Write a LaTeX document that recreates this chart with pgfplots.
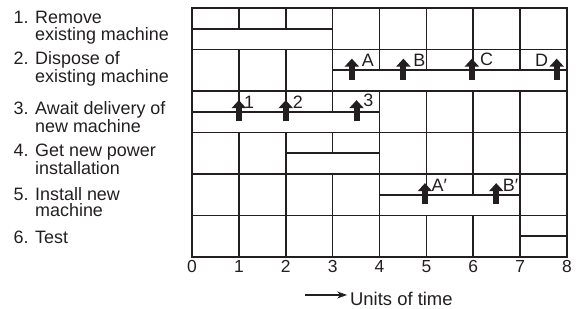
\documentclass[border=0pt]{standalone}
\usepackage{fontspec}
\setmainfont{Liberation Sans}
\usepackage{pgfplots}
\pgfplotsset{compat=1.18}
\usetikzlibrary{arrows.meta}
\definecolor{ink}{RGB}{35,31,32}
\newcommand{\lfont}{\fontsize{18}{16.7}\selectfont}
\begin{document}
\begin{tikzpicture}
\begin{axis}[
  scale only axis, width=375bp, height=249bp,
  xmin=0, xmax=8, ymin=0, ymax=6, y dir=reverse,
  xtick={0,...,8}, ytick={0,...,6}, yticklabels={},
  xmajorgrids, ymajorgrids,
  major grid style={line width=1.6bp, draw=ink},
  axis line style={line width=1.7bp, draw=ink},
  major tick length=0pt,
  /pgf/number format/assume math mode=true,
  xticklabel style={font=\fontsize{17.5}{17.5}\selectfont, text=ink},
  clip=false,
]
% invisible frame fixing the picture size (579 x 309)
\path (axis cs:-4.096,-0.193) rectangle (axis cs:8.256,7.253);
% task bars (lower half of each row)
\addplot[fill=white, draw=ink, line width=1.6bp] coordinates {(0,0.5) (3,0.5) (3,1) (0,1) (0,0.5)};
\addplot[fill=white, draw=ink, line width=1.6bp] coordinates {(3,1.5) (8,1.5) (8,2) (3,2) (3,1.5)};
\addplot[fill=white, draw=ink, line width=1.6bp] coordinates {(0,2.5) (4,2.5) (4,3) (0,3) (0,2.5)};
\addplot[fill=white, draw=ink, line width=1.6bp] coordinates {(2,3.5) (4,3.5) (4,4) (2,4) (2,3.5)};
\addplot[fill=white, draw=ink, line width=1.6bp] coordinates {(4,4.5) (7,4.5) (7,5) (4,5) (4,4.5)};
\addplot[fill=white, draw=ink, line width=1.6bp] coordinates {(7,5.5) (8,5.5) (8,6) (7,6) (7,5.5)};
% milestone arrows
\addplot[ink, line width=6bp, quiver={u=0,v=-0.51}, -{Triangle[width=14bp,length=8bp]}]
  coordinates {(3.41,1.73) (4.51,1.73) (5.97,1.73) (7.78,1.73) (1,2.73) (2,2.73) (3.51,2.73) (4.97,4.73) (6.49,4.73)};
% milestone labels
\begin{scope}[every node/.style={font=\lfont, text=ink, inner sep=0}]
\node[anchor=base west] at (axis cs:3.62,1.41) {A};
\node[anchor=base west] at (axis cs:4.72,1.41) {B};
\node[anchor=base west] at (axis cs:6.14,1.38) {C};
\node[anchor=base east] at (axis cs:7.60,1.41) {D};
\node[anchor=base west] at (axis cs:1.11,2.42) {1};
\node[anchor=base west] at (axis cs:2.15,2.42) {2};
\node[anchor=base west] at (axis cs:3.65,2.38) {3};
\node[anchor=base west] at (axis cs:5.11,4.43) {A′};
\node[anchor=base west] at (axis cs:6.63,4.43) {B′};
% task names (base = baseline of the last line)
\node[anchor=base west, align=left] at (axis cs:-3.81,0.776) {1. Remove\\\phantom{1. }existing machine};
\node[anchor=base west, align=left] at (axis cs:-3.81,1.800) {2. Dispose of\\\phantom{2. }existing machine};
\node[anchor=base west, align=left] at (axis cs:-3.81,3.004) {3. Await delivery of\\\phantom{3. }new machine};
\node[anchor=base west, align=left] at (axis cs:-3.81,4.016) {4. Get new power\\\phantom{4. }installation};
\node[anchor=base west, align=left] at (axis cs:-3.81,5.029) {5. Install new\\\phantom{5. }machine};
\node[anchor=base west, align=left] at (axis cs:-3.81,5.663) {6. Test};
% axis caption
\node[anchor=base west, font=\fontsize{18.5}{18.5}\selectfont] at (axis cs:3.37,7.18) {Units of time};
\end{scope}
\draw[ink, line width=1.5bp, -{Stealth[length=10bp,width=7bp]}] (axis cs:2.41,6.915) -- (axis cs:3.31,6.915);
\end{axis}
\end{tikzpicture}
\end{document}
